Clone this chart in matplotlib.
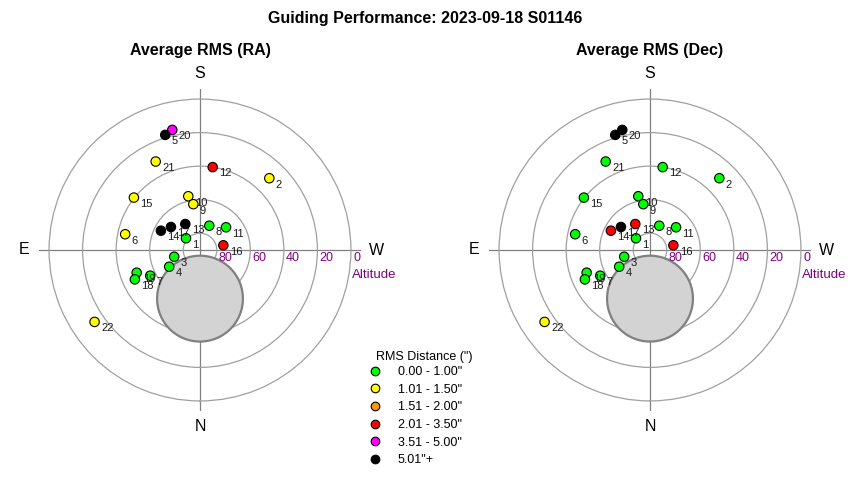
"""
Guiding performance sky map: average RMS per target, RA and Dec.
"""
import numpy as np
import matplotlib
matplotlib.use("Agg")
import matplotlib.pyplot as plt
from matplotlib.patches import Circle
from matplotlib.lines import Line2D

plt.rcParams['font.family'] = ['Liberation Sans', 'DejaVu Sans']

# numero do alvo, azimute (graus, N=0, E=90) e altitude (graus)
numeros = list(range(1, 23))
azimute = [129.9, 224.0, 75.4, 61.5, 163.2, 101.9, 62.7, 200.9, 171.7, 167.7, 228.9,
           188.7, 150.5, 116.3, 128.4, 258.6, 128.4, 65.7, 70.3, 167.0, 153.4, 55.7]
altitude = [79.1, 30.5, 74.1, 69.1, 18.3, 44.4, 56.6, 74.5, 62.4, 57.2, 69.4,
            40.0, 72.2, 64.0, 39.7, 75.8, 67.9, 47.4, 49.9, 16.5, 31.0, 13.9]

# faixa de RMS (indice em faixas_rms) para cada alvo
classe_ra = [0, 1, 0, 0, 5, 1, 0, 0, 1, 1, 0, 3, 5, 5, 1, 3, 5, 0, 0, 4, 1, 1]
classe_dec = [0, 0, 0, 0, 5, 0, 0, 0, 0, 0, 0, 0, 3, 3, 0, 3, 5, 0, 0, 5, 0, 1]

faixas_rms = ['0.00 - 1.00"', '1.01 - 1.50"', '1.51 - 2.00"',
              '2.01 - 3.50"', '3.51 - 5.00"', '5.01"+']
cores_rms = ['#00ff00', '#ffff00', '#ff9900', '#ff0000', '#ff00ff', '#000000']

aneis_altitude = [80, 60, 40, 20, 0]
pontos_cardeais = {'N': 0, 'E': 90, 'S': 180, 'W': 270}

# obstrucao (pilar) em distancia zenital
pilar_az = 0
pilar_zd = 29.0
pilar_raio = 25.6

R_MAX = 96

fig = plt.figure(figsize=(8.5, 4.8), dpi=100)


def desenhar_mapa(ax, classes, titulo):
    ax.set_theta_zero_location('S')
    ax.set_theta_direction(-1)
    ax.spines['polar'].set_visible(False)
    ax.set_yticks([90 - a for a in aneis_altitude])
    ax.set_yticklabels([])
    ax.set_xticks(np.deg2rad(list(pontos_cardeais.values())))
    ax.set_xticklabels([])
    ax.tick_params(length=0)
    ax.yaxis.grid(True, color='#a0a0a0', lw=0.9)
    ax.xaxis.grid(True, color='#808080', lw=0.9)

    # pilar
    pz = pilar_zd
    cx = pz * np.sin(np.deg2rad(pilar_az))
    cy = -pz * np.cos(np.deg2rad(pilar_az))
    pilar = Circle((cx, cy), pilar_raio, facecolor='#d3d3d3', edgecolor='#808080',
                   lw=1.6, zorder=2,
                   transform=ax.transProjectionAffine + ax.transWedge + ax.transAxes)
    ax.add_artist(pilar)

    theta = np.deg2rad(azimute)
    zd = 90 - np.array(altitude)
    cores = [cores_rms[c] for c in classes]
    ax.scatter(theta[::-1], zd[::-1], s=46, c=cores[::-1], edgecolors='black',
               linewidths=0.8, zorder=3)
    for n, t, r in zip(numeros, theta, zd):
        ax.annotate(str(n), (t, r), xytext=(4.6, -4.6), textcoords='offset points',
                    ha='left', va='center', fontsize=8, color='#1a1a1a', zorder=4)

    for a in aneis_altitude:
        ax.annotate(str(a), (np.deg2rad(270), 90 - a), xytext=(1.5, -1.5),
                    textcoords='offset points', ha='left', va='top',
                    fontsize=9, color='#800080')
    ax.annotate('Altitude', (np.deg2rad(270), 90), xytext=(1, -18),
                textcoords='offset points', ha='left', va='center',
                fontsize=9.5, color='#800080')

    for nome, az in pontos_cardeais.items():
        ax.text(np.deg2rad(az), 105, nome, ha='center', va='center', fontsize=11.5)

    ax.set_rlim(0, R_MAX)
    ax.set_title(titulo, fontsize=11.5, fontweight='bold', pad=0, y=1.105)


ax_ra = fig.add_axes([39 / 850, 69 / 480, 322 / 850, 322 / 480], projection='polar')
ax_dec = fig.add_axes([489 / 850, 69 / 480, 322 / 850, 322 / 480], projection='polar')
desenhar_mapa(ax_ra, classe_ra, 'Average RMS (RA)')
desenhar_mapa(ax_dec, classe_dec, 'Average RMS (Dec)')

fig.text(0.5, 1 - 18 / 480, 'Guiding Performance: 2023-09-18 S01146',
         ha='center', va='center', fontsize=11.5, fontweight='bold')

# legenda
fig.text(376 / 850, 1 - 357 / 480, 'RMS Distance (")', ha='left', va='center', fontsize=9)
alcas = [Line2D([], [], ls='none', marker='o', markersize=6.2, markerfacecolor=c,
                markeredgecolor='black', markeredgewidth=0.8) for c in cores_rms]
fig.legend(alcas, faixas_rms, loc='upper left', bbox_to_anchor=(368.75 / 850, 1 - 366 / 480),
           frameon=False, fontsize=9, borderpad=0, borderaxespad=0,
           handlelength=1.0, handletextpad=1.3, labelspacing=0.45)

fig.savefig('out.png', dpi=100)
